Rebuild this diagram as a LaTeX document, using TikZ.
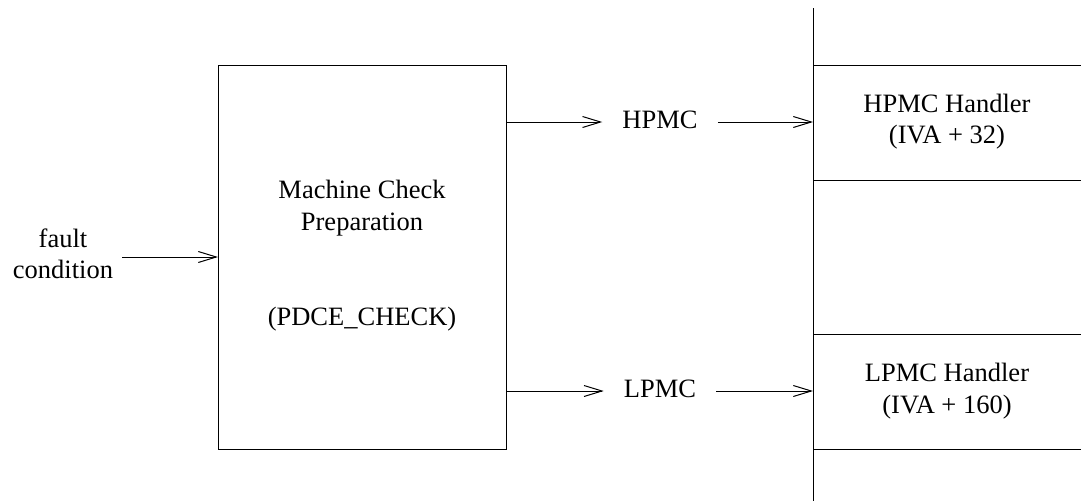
\documentclass[tikz,border=0pt]{standalone}
\usepackage{fontspec}
\setmainfont{Liberation Serif}
\usetikzlibrary{arrows.meta}
\begin{document}
\begin{tikzpicture}[x=1pt,y=-1pt,
  every node/.style={font=\fontsize{26.5pt}{32pt}\selectfont, inner sep=0pt},
  lbl/.style={anchor=base},
  arr/.style={line width=1pt, -{Straight Barb[length=18pt,width=11pt,line width=1pt]}},
  ln/.style={line width=1pt}]
\useasboundingbox (0,0) rectangle (1081,501);
% main box
\node[draw, line width=1pt, minimum width=288pt, minimum height=384pt, anchor=north west] (mcp) at (218,65) {};
\node[lbl] (mc1) at (362,198) {Machine Check};
\node[lbl] (mc2) at (362,230) {Preparation};
\node[lbl] (mc3) at (362,325) {(PDCE\_CHECK)};
% fault condition
\node[lbl] (ft1) at (63,247) {fault};
\node[lbl] (ft2) at (63,278) {condition};
\coordinate (fs) at (122,257);
% vertical line
\coordinate (vtop) at (813,8);
\coordinate (vbot) at (813,501);
\draw[ln] (vtop) -- (vbot);
% handler boxes
\node[minimum width=268pt, minimum height=115pt, anchor=north west] (hh) at (813,65) {};
\node[minimum width=268pt, minimum height=115pt, anchor=north west] (lh) at (813,334) {};
\draw[ln] (hh.north west) -- (hh.north east) (hh.south west) -- (hh.south east);
\draw[ln] (lh.north west) -- (lh.north east) (lh.south west) -- (lh.south east);
\node[lbl] (hh1) at (947,112) {HPMC Handler};
\node[lbl] (hh2) at (947,143) {(IVA + 32)};
\node[lbl] (lh1) at (947,381) {LPMC Handler};
\node[lbl] (lh2) at (947,413) {(IVA + 160)};
% signal labels
\node[lbl, inner xsep=20pt] (hp) at (660,128) {HPMC};
\node[lbl, inner xsep=20pt] (lp) at (660,397) {LPMC};
\coordinate (hy) at (0,122);
\coordinate (ly) at (0,391);
% arrows
\draw[arr] (fs) -- (mcp.west |- fs);
\draw[arr] (mcp.east |- hy) -- (hp.west |- hy);
\draw[arr] (hp.east |- hy) -- (vtop |- hy);
\draw[arr] (mcp.east |- ly) -- (lp.west |- ly);
\draw[arr] (lp.east |- ly) -- (vtop |- ly);
\end{tikzpicture}
\end{document}
